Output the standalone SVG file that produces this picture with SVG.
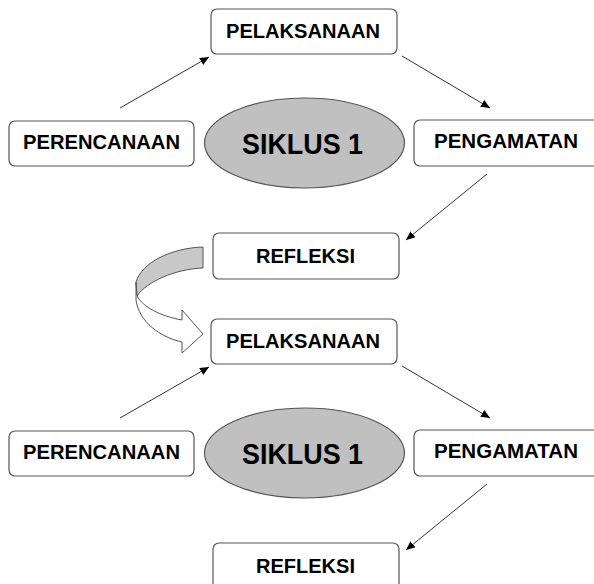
<svg xmlns="http://www.w3.org/2000/svg" width="594" height="584" viewBox="0 0 594 584">
<defs>
<style>
.box{fill:#fff;stroke:#555;stroke-width:1.2}
.ell{fill:#c0c0c0;stroke:#555;stroke-width:1.2}
.t{font-family:"Liberation Sans",Arial,sans-serif;font-weight:bold;font-size:20.5px;fill:#000;text-anchor:middle}
.big{font-size:29px}
.con{stroke:#333;stroke-width:1;fill:none;marker-end:url(#ah)}
.ribbon{stroke:#555;stroke-width:1}
</style>
<marker id="ah" markerWidth="10" markerHeight="8" refX="9" refY="4" orient="auto" markerUnits="userSpaceOnUse">
<path d="M0,0 L9,4 L0,8 Z" fill="#000"/>
</marker>
</defs>
<rect width="594" height="584" fill="#fff"/>

<g id="connectors">
<line class="con" x1="120" y1="108" x2="209" y2="57"/>
<line class="con" x1="402" y1="56" x2="490" y2="108"/>
<line class="con" x1="487" y1="174" x2="406" y2="240"/>
<line class="con" x1="120" y1="418" x2="209" y2="367"/>
<line class="con" x1="402" y1="366" x2="490" y2="418"/>
<line class="con" x1="487" y1="484" x2="406" y2="550"/>
</g>

<g id="curved-arrow">
<path class="ribbon" fill="#c8c8c8" d="M203,247 C172,248 142,262 136,282 L137,296 C146,282 175,269 203,268 Z"/>
<path class="ribbon" fill="#fff" d="M136,282 L136,300 C139,322 160,337 182,342 L182,353 L203,334 L182,310 L182,320 C160,316 143,307 137,296 Z"/>
</g>

<g id="pelaksanaan1">
<rect class="box" x="211" y="9" width="186" height="45" rx="6"/>
<text class="t" x="303" y="38" textLength="154" lengthAdjust="spacingAndGlyphs">PELAKSANAAN</text>
</g>
<g id="perencanaan1">
<rect class="box" x="9" y="121" width="185" height="45" rx="6"/>
<text class="t" x="101.5" y="149" textLength="157" lengthAdjust="spacingAndGlyphs">PERENCANAAN</text>
</g>
<g id="siklus1">
<ellipse class="ell" cx="304.5" cy="143" rx="100" ry="45"/>
<text class="t big" x="302.5" y="154" textLength="121" lengthAdjust="spacingAndGlyphs">SIKLUS 1</text>
</g>
<g id="pengamatan1">
<rect class="box" x="414" y="120" width="186" height="46" rx="6"/>
<text class="t" x="506" y="148" textLength="144" lengthAdjust="spacingAndGlyphs">PENGAMATAN</text>
</g>
<g id="refleksi1">
<rect class="box" x="213" y="233" width="186" height="46" rx="6"/>
<text class="t" x="305.5" y="263" textLength="99" lengthAdjust="spacingAndGlyphs">REFLEKSI</text>
</g>

<g id="pelaksanaan2">
<rect class="box" x="211" y="319" width="186" height="45" rx="6"/>
<text class="t" x="303" y="348" textLength="154" lengthAdjust="spacingAndGlyphs">PELAKSANAAN</text>
</g>
<g id="perencanaan2">
<rect class="box" x="9" y="431" width="185" height="45" rx="6"/>
<text class="t" x="101.5" y="459" textLength="157" lengthAdjust="spacingAndGlyphs">PERENCANAAN</text>
</g>
<g id="siklus2">
<ellipse class="ell" cx="304.5" cy="453" rx="100" ry="45"/>
<text class="t big" x="302.5" y="464" textLength="121" lengthAdjust="spacingAndGlyphs">SIKLUS 1</text>
</g>
<g id="pengamatan2">
<rect class="box" x="414" y="430" width="186" height="46" rx="6"/>
<text class="t" x="506" y="458" textLength="144" lengthAdjust="spacingAndGlyphs">PENGAMATAN</text>
</g>
<g id="refleksi2">
<rect class="box" x="213" y="543" width="186" height="46" rx="6"/>
<text class="t" x="305.5" y="573" textLength="99" lengthAdjust="spacingAndGlyphs">REFLEKSI</text>
</g>
</svg>
